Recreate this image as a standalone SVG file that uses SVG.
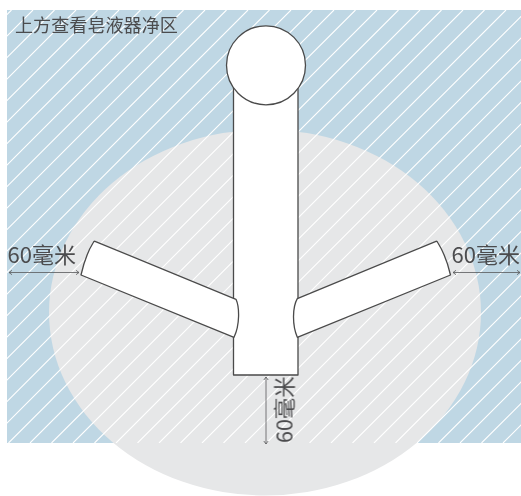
<svg xmlns="http://www.w3.org/2000/svg" width="521" height="496" viewBox="0 0 521 496">
<style>
.s{fill:#fff;stroke:#4a4a4a;stroke-width:1.3;stroke-linejoin:round}
.d{fill:none;stroke:#58595b;stroke-width:.8}
.t{font-family:"Noto Sans CJK SC","Noto Sans",sans-serif;font-weight:400;fill:#4a4a4c}
</style>
<defs>
<clipPath id="c"><rect x="7" y="10" width="514" height="433"/></clipPath>
</defs>
<g id="zone">
<rect x="7" y="10" width="514" height="433" fill="#bfd7e4"/>
<ellipse cx="265" cy="312.500" rx="216" ry="183" fill="#e6e7e8"/>
<path clip-path="url(#c)" fill="none" stroke="#fff" stroke-width="1.1" d="M-421.500 443l433-433m-411.500 433l433-433m-411.500 433l433-433m-411.500 433l433-433m-411.500 433l433-433m-411.500 433l433-433m-411.500 433l433-433m-411.500 433l433-433m-411.500 433l433-433m-411.500 433l433-433m-411.500 433l433-433m-411.500 433l433-433m-411.500 433l433-433m-411.500 433l433-433m-411.500 433l433-433m-411.500 433l433-433m-411.500 433l433-433m-411.500 433l433-433m-411.500 433l433-433m-411.500 433l433-433m-411.500 433l433-433m-411.500 433l433-433m-411.500 433l433-433m-411.500 433l433-433m-411.500 433l433-433m-411.500 433l433-433m-411.500 433l433-433m-411.500 433l433-433m-411.500 433l433-433m-411.500 433l433-433m-411.500 433l433-433m-411.500 433l433-433m-411.500 433l433-433m-411.500 433l433-433m-411.500 433l433-433m-411.500 433l433-433m-411.500 433l433-433m-411.500 433l433-433m-411.500 433l433-433m-411.500 433l433-433m-411.500 433l433-433m-411.500 433l433-433m-411.500 433l433-433m-411.500 433l433-433m-411.500 433l433-433"/>
</g>
<g id="faucet">
<rect class="s" x="233.500" y="60" width="64.500" height="315"/>
<circle class="s" cx="266" cy="65.300" r="39.500"/>
</g>
<g id="arm-left">
<path class="s" d="M95 241.300L236 299.300C239.500 307 240 325 234 337.300L81 275C84 262 88 251 93 243Q94 241 95 241.300Z"/>
</g>
<g id="arm-right">
<path class="s" d="M436 241.300L297.300 298.700C292.500 307 292 325 297.300 337.300L450.500 275C447.500 262 443 251 438 243Q437 241 436 241.300Z"/>
</g>
<g id="connectors">
<path class="d" d="M9 272.500H79M12 270.300L9 272.500L12 274.700M76 270.300L79 272.500L76 274.700"/>
<path class="d" d="M453 272.500H520M456 270.300L453 272.500L456 274.700M517 270.300L520 272.500L517 274.700"/>
<path class="d" d="M266 377V444M263.800 380L266 377L268.200 380M263.800 441L266 444L268.200 441"/>
</g>
<g id="labels" opacity="0.99">
<text class="t" x="15" y="31.500" font-size="18.100">上方查看皂液器净区</text>
<text class="t" x="7.500" y="263" font-size="22">60毫米</text>
<text class="t" x="451.500" y="263" font-size="22">60毫米</text>
<text class="t" transform="translate(292.500 443) rotate(-90)" font-size="21.500">60毫米</text>
</g>
</svg>
